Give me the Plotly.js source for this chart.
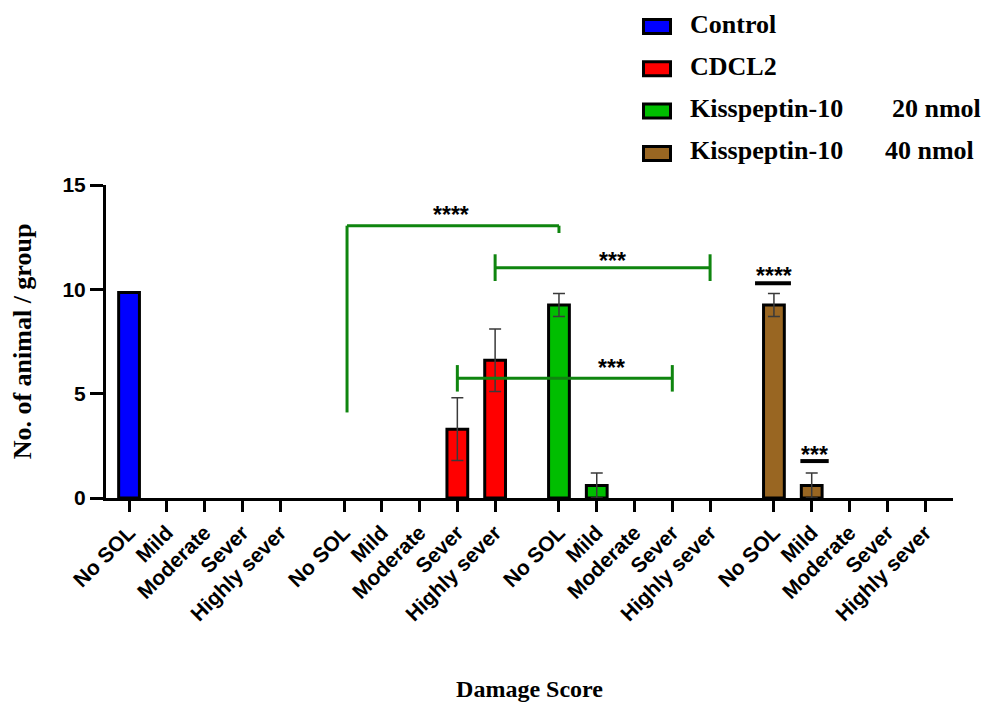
<!DOCTYPE html>
<html><head><meta charset="utf-8">
<script src="https://cdn.plot.ly/plotly-3.0.1.min.js"></script>
<style>html,body{margin:0;padding:0;background:#fff}</style>
</head><body><div id="chart" style="width:987px;height:702px"></div>
<script>
// ---- data ----
const categories = ["No SOL", "Mild", "Moderate", "Sever", "Highly sever"];
const groupNames = ["Control", "CDCL2", "Kisspeptin-10", "Kisspeptin-10"];
const groupDoses = ["", "", "20 nmol", "40 nmol"];
const controlValues = [9.85, 0, 0, 0, 0];
const controlErrors = [null, null, null, null, null];
const cdcl2Values = [0, 0, 0, 3.3, 6.6];
const cdcl2Errors = [null, null, null, 1.5, 1.5];
const kiss20Values = [9.25, 0.6, 0, 0, 0];
const kiss20Errors = [0.55, 0.6, null, null, null];
const kiss40Values = [9.25, 0.6, 0, 0, 0];
const kiss40Errors = [0.55, 0.6, null, null, null];
const sigLabels = ["****", "***", "***", "****", "***"];

// ---- styling / layout ----
const colors = ["#0000FF", "#FF0000", "#00BE00", "#996622"];
const GROUP_STEP = 5.69;
const pos = (g, i) => g * GROUP_STEP + i;
const allValues = [controlValues, cdcl2Values, kiss20Values, kiss40Values];
const allErrors = [controlErrors, cdcl2Errors, kiss20Errors, kiss40Errors];

const traces = allValues.map((vals, g) => ({
  type: "bar",
  x: categories.map((c, i) => pos(g, i)),
  y: vals,
  width: 0.55,
  name: groupNames[g] + " " + groupDoses[g],
  marker: {color: colors[g], line: {color: "#000", width: vals.map(v => v > 0 ? 3 : 0)}},
  error_y: {type: "data", array: allErrors[g].map(e => e == null ? NaN : e), visible: true, color: "#3a3a3a", thickness: 1.5, width: 6},
  showlegend: false,
  hoverinfo: "skip"
}));

const tickvals = [], ticktext = [];
for (let g = 0; g < 4; g++) categories.forEach((c, i) => { tickvals.push(pos(g, i)); ticktext.push(c); });

// pixel -> paper helpers for the hand-drawn legend
const L = 106, W = 847, B = 498, H = 313;
const px = v => (v - L) / W;
const py = v => (B - v) / H;

const green = "#0F850F";
const shapes = [];
const annotations = [];
// significance brackets
const line = (x0, y0, x1, y1, color, width) => shapes.push({type: "line", xref: "x", yref: "y", x0, y0, x1, y1, line: {color, width}, layer: "above"});
// bracket 1: CDCL2 No SOL vs Kiss20 No SOL
line(pos(1, 0) + 0.08, 4.1, pos(1, 0) + 0.08, 13.05, green, 3);
line(pos(1, 0) + 0.08, 13.05, pos(2, 0), 13.05, green, 3);
line(pos(2, 0), 13.05, pos(2, 0), 12.7, green, 3);
// bracket 2: CDCL2 Highly sever vs Kiss20 Highly sever
line(pos(1, 4), 11.03, pos(2, 4), 11.03, green, 3);
line(pos(1, 4), 11.68, pos(1, 4), 10.4, green, 3);
line(pos(2, 4), 11.68, pos(2, 4), 10.4, green, 3);
// bracket 3: CDCL2 Sever vs Kiss20 Sever
line(pos(1, 3), 5.74, pos(2, 3), 5.74, green, 3);
line(pos(1, 3), 6.37, pos(1, 3), 5.1, green, 3);
line(pos(2, 3), 6.37, pos(2, 3), 5.1, green, 3);
// black bars over Kiss40
line(pos(3, 0) - 0.5, 10.29, pos(3, 0) + 0.45, 10.29, "#000", 4);
line(pos(3, 1) - 0.3, 1.77, pos(3, 1) + 0.45, 1.77, "#000", 4);

const star = (x, y, t) => annotations.push({xref: "x", yref: "y", x, y, text: t, showarrow: false, xanchor: "center", yanchor: "middle",
  font: {family: "Liberation Sans, Arial, sans-serif", size: 23, color: "#000", weight: "bold"}});
star((pos(1, 0) + pos(2, 0)) / 2, 13.55, sigLabels[0]);
star(12.8, 11.37, sigLabels[1]);
star(12.76, 6.24, sigLabels[2]);
star(pos(3, 0), 10.65, sigLabels[3]);
star(pos(3, 1) + 0.07, 2.06, sigLabels[4]);

// legend (hand-drawn)
const legFont = {family: "Liberation Serif, Times New Roman, serif", size: 26, color: "#000", weight: "bold"};
for (let g = 0; g < 4; g++) {
  const cy = 26.5 + 42.3 * g;
  shapes.push({type: "rect", xref: "paper", yref: "paper", x0: px(643.5), x1: px(670.5), y0: py(cy + 7), y1: py(cy - 7),
    fillcolor: colors[g], line: {color: "#000", width: 3}});
  annotations.push({xref: "paper", yref: "paper", x: px(688), y: py(cy - 2.5), text: groupNames[g], showarrow: false,
    xanchor: "left", yanchor: "middle", font: legFont});
  if (groupDoses[g]) annotations.push({xref: "paper", yref: "paper", x: px(g === 2 ? 890 : 883), y: py(cy - 2.5), text: groupDoses[g],
    showarrow: false, xanchor: "left", yanchor: "middle", font: legFont});
}

const tickFont = {family: "Liberation Sans, Arial, sans-serif", size: 21, color: "#000", weight: "bold"};
const titleFont = {family: "Liberation Serif, Times New Roman, serif", size: 24, color: "#000", weight: "bold"};

const layout = {
  width: 987, height: 702,
  margin: {l: L, r: 987 - L - W, t: B - H, b: 702 - B, pad: 0},
  paper_bgcolor: "#fff", plot_bgcolor: "#fff",
  barmode: "overlay",
  showlegend: false,
  xaxis: {
    range: [-0.61, 21.81], tickvals, ticktext, tickangle: -45,
    showline: true, linecolor: "#000", linewidth: 3,
    ticks: "outside", ticklen: 11, tickwidth: 3, tickcolor: "#000",
    showgrid: false, zeroline: false, tickfont: tickFont, automargin: false,
    title: {text: "Damage Score", font: titleFont, standoff: 60}
  },
  yaxis: {
    range: [0, 15], tickvals: [0, 5, 10, 15],
    showline: true, linecolor: "#000", linewidth: 3,
    ticks: "outside", ticklen: 13, tickwidth: 3, tickcolor: "#000",
    showgrid: false, zeroline: false, tickfont: tickFont, automargin: false,
    title: {text: "No. of animal / group", font: {family: titleFont.family, size: 26, color: "#000", weight: "bold"}, standoff: 24}
  },
  shapes, annotations
};
Plotly.newPlot("chart", traces, layout, {displayModeBar: false, staticPlot: true});
</script></body></html>
